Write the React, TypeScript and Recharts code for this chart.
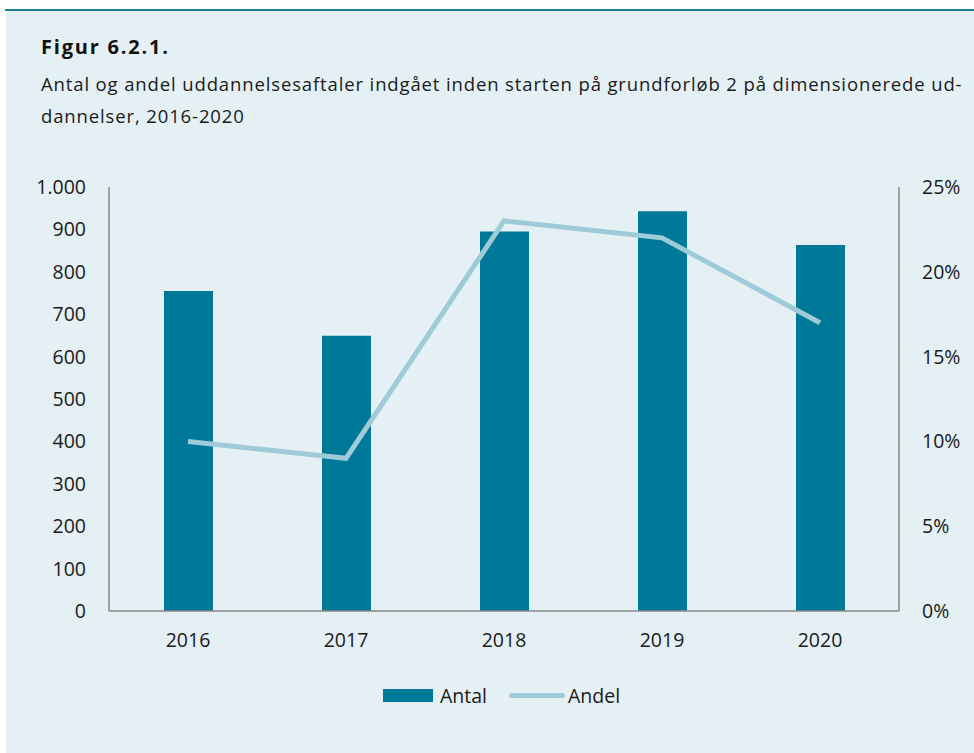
import { ComposedChart, Bar, Line, XAxis, YAxis, Legend } from 'recharts';

const years = ['2016', '2017', '2018', '2019', '2020'];
const antal = [755, 649, 895, 943, 863];
const andel = [0.10, 0.09, 0.23, 0.22, 0.17];
const leftTicks = [0, 100, 200, 300, 400, 500, 600, 700, 800, 900, 1000];
const rightTicks = [0, 0.05, 0.1, 0.15, 0.2, 0.25];

const BAR = '#007898';
const LINE = '#9ecbd7';
const AXIS = '#8a8a8a';
const FONT = '"Open Sans", "Noto Sans", sans-serif';

const data = years.map((y, i) => ({ year: y, antal: antal[i], andel: andel[i] }));

function LegendBox() {
    return (
        <div style={{ display: 'flex', alignItems: 'center', paddingLeft: 383, fontFamily: FONT, fontSize: 19.5, color: '#1a1a1a' }}>
            <span style={{ display: 'inline-block', width: 50, height: 13, background: BAR, marginRight: 7 }} />
            <span>Antal</span>
            <span style={{ display: 'inline-block', width: 56, height: 5, borderRadius: 3, background: LINE, marginLeft: 22, marginRight: 3 }} />
            <span>Andel</span>
        </div>
    );
}

export default function App() {
    return (
        <div style={{ position: 'absolute', top: 0, left: 0, width: 974, height: 753, background: '#fff', overflow: 'hidden' }}>
            <div style={{ position: 'absolute', top: 9, left: 5, right: 0, height: 2, background: '#1b7f9b' }} />
            <div style={{ position: 'absolute', top: 11, left: 6, right: 0, bottom: 0, background: '#e4f0f4' }} />
            {/* title */}
            <div style={{ position: 'absolute', left: 41, top: 33, fontFamily: FONT, fontWeight: 700, fontSize: 20, letterSpacing: 1.8, color: '#111' }}>
                Figur 6.2.1.
            </div>
            <div style={{ position: 'absolute', left: 41, top: 68, width: 932, fontFamily: FONT, fontSize: 18.5, letterSpacing: 0.87, lineHeight: '32px', color: '#1a1a1a', whiteSpace: 'nowrap' }}>
                Antal og andel uddannelsesaftaler indgået inden starten på grundforløb 2 på dimensionerede ud-<br />
                dannelser, 2016-2020
            </div>
            <div style={{ position: 'absolute', left: 0, top: 0 }}>
                <ComposedChart
                    width={974}
                    height={753}
                    data={data}
                    margin={{ top: 187, right: 0, left: 0, bottom: 42 }}
                    barCategoryGap={0}
                >
                    <XAxis
                        dataKey="year"
                        height={40}
                        tickLine={false}
                        tickSize={0}
                        tickMargin={22}
                        stroke={AXIS}
                        strokeWidth={1.5}
                        tick={{ fill: '#1a1a1a', fontSize: 19.5, fontFamily: FONT }}
                    />
                    <YAxis
                        yAxisId="left"
                        width={109}
                        domain={[0, 1000]}
                        ticks={leftTicks}
                        interval={0}
                        tickFormatter={(v: number) => v.toLocaleString('da-DK')}
                        tickLine={false}
                        tickSize={0}
                        tickMargin={23}
                        stroke={AXIS}
                        strokeWidth={1.5}
                        tick={{ fill: '#1a1a1a', fontSize: 19.5, fontFamily: FONT }}
                    />
                    <YAxis
                        yAxisId="right"
                        orientation="right"
                        width={75}
                        domain={[0, 0.25]}
                        ticks={rightTicks}
                        interval={0}
                        tickFormatter={(v: number) => `${Math.round(v * 100)}%`}
                        tickLine={false}
                        tickSize={0}
                        tickMargin={23}
                        stroke={AXIS}
                        strokeWidth={1.5}
                        tick={{ fill: '#1a1a1a', fontSize: 19.5, fontFamily: FONT }}
                    />
                    <Bar yAxisId="left" dataKey="antal" name="Antal" fill={BAR} barSize={49} isAnimationActive={false} />
                    <Line
                        yAxisId="right"
                        dataKey="andel"
                        name="Andel"
                        stroke={LINE}
                        strokeWidth={5}
                        dot={false}
                        activeDot={false}
                        type="linear"
                        isAnimationActive={false}
                    />
                    <Legend verticalAlign="bottom" height={60} content={() => <LegendBox />} wrapperStyle={{ top: 682, left: 0, width: 974 }} />
                </ComposedChart>
            </div>
        </div>
    );
}
